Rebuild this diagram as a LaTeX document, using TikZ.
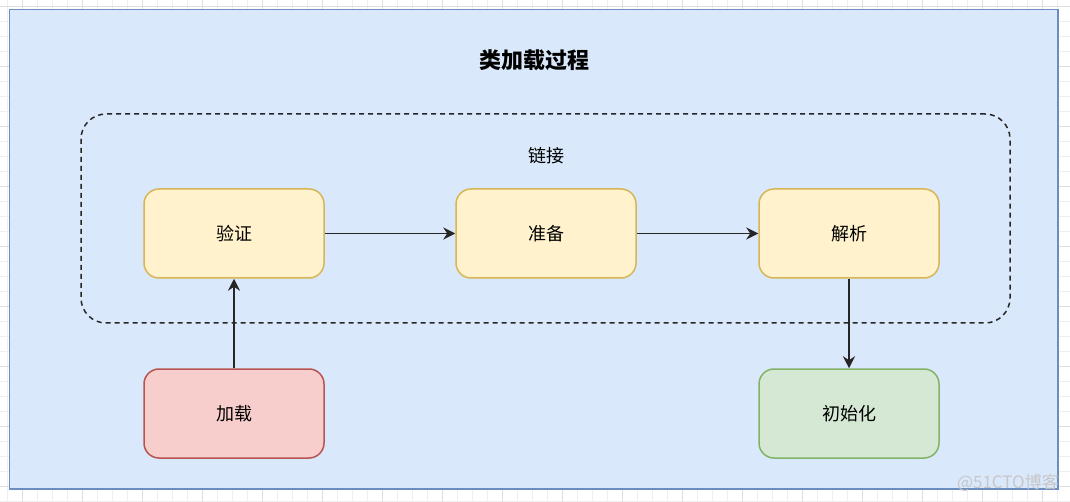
\documentclass[tikz,border=0pt]{standalone}
\usepackage{fontspec}
\setmainfont{Noto Sans CJK SC}
\usepackage{xcolor}
\usepackage{tikz}
\usetikzlibrary{arrows.meta}

\definecolor{outerfill}{HTML}{DAE8FC}
\definecolor{outerline}{HTML}{6C8EBF}
\definecolor{yelfill}{HTML}{FFF2CC}
\definecolor{yelline}{HTML}{D6B656}
\definecolor{redfill}{HTML}{F8CECC}
\definecolor{redline}{HTML}{B85450}
\definecolor{grnfill}{HTML}{D5E8D4}
\definecolor{grnline}{HTML}{82B366}
\definecolor{gridminor}{HTML}{EFEFEF}
\definecolor{gridmajor}{HTML}{DEDEDE}

\begin{document}
\begin{tikzpicture}[x=1pt, y=-1pt,
  stage/.style={rounded corners=15pt, line width=1.5pt, minimum width=180pt,
    minimum height=89pt, font=\fontsize{18}{22}\selectfont},
  flow/.style={-{Stealth[length=12pt, width=12pt, inset=4pt]}, line width=1.8pt, black!85}]
\useasboundingbox (0,0) rectangle (1070,502);
\fill [white] (0,0) rectangle (1070,502);
% grid
\foreach \gx in {7.7,22.7,...,1070} \draw [gridminor, line width=0.9pt] (\gx,0) -- (\gx,502);
\foreach \gy in {6.7,21.7,...,502} \draw [gridminor, line width=0.9pt] (0,\gy) -- (1070,\gy);
\foreach \gx in {22.7,82.7,...,1070} \draw [gridmajor, line width=0.9pt] (\gx,0) -- (\gx,502);
\foreach \gy in {6.7,66.7,...,502} \draw [gridmajor, line width=0.9pt] (0,\gy) -- (1070,\gy);
% outer frame
\draw [fill=outerfill, draw=outerline, line width=1.5pt] (9.5,9.5) rectangle (1058,489);
\node [font=\fontsize{22}{26}\selectfont\bfseries] (title) at (534,60) {类加载过程};
% linking group
\node [draw=black!85, dashed, dash pattern=on 5pt off 4pt, line width=1.5pt,
  rounded corners=25pt, minimum width=929pt, minimum height=209pt] (lj) at (545.5,218.5) {};
\node [font=\fontsize{18}{22}\selectfont] (ljlabel) at (546,156) {链接};
% stages
\node [stage, fill=yelfill, draw=yelline] (yz) at (234,233.5) {验证};
\node [stage, fill=yelfill, draw=yelline] (zb) at (546,233.5) {准备};
\node [stage, fill=yelfill, draw=yelline] (jx) at (849,233.5) {解析};
\node [stage, fill=redfill, draw=redline] (jz) at (234,413.5) {加载};
\node [stage, fill=grnfill, draw=grnline] (csh) at (849,413.5) {初始化};
% connectors
\draw [flow] (yz) -- (zb);
\draw [flow] (zb) -- (jx);
\draw [flow] (jz) -- (yz);
\draw [flow] (jx) -- (csh);
\node [font=\fontsize{17}{20}\selectfont, text=black!22, anchor=east, inner sep=0pt] (wm) at (1059,483) {@51CTO博客};
\end{tikzpicture}
\end{document}
